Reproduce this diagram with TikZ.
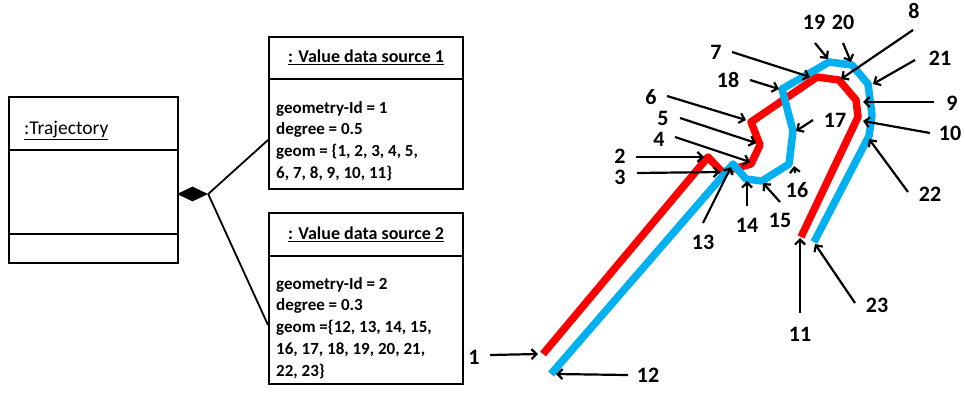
\documentclass[tikz,border=0pt]{standalone}
\usepackage{fontspec}
\setmainfont{Carlito}
\usetikzlibrary{arrows.meta,shapes.geometric}
\definecolor{lred}{RGB}{255,0,0}
\definecolor{lblue}{RGB}{0,176,240}
\begin{document}
\begin{tikzpicture}[x=1pt,y=-1pt,
  box/.style={draw, line width=1.6pt, inner sep=0pt, anchor=north west},
  divline/.style={line width=1.6pt},
  assoc/.style={line width=1.8pt},
  numlbl/.style={font=\fontsize{22}{24}\selectfont\bfseries, inner sep=0pt},
  ptr/.style={line width=2.2pt, -{Straight Barb[length=5pt,width=10pt]}},
  redpath/.style={draw=lred, line width=7.5pt, line join=round},
  bluepath/.style={draw=lblue, line width=7.5pt, line join=round},
  bodytxt/.style={font=\fontsize{17}{20}\selectfont\bfseries, anchor=base west, inner sep=0pt},
  titletxt/.style={font=\fontsize{18}{20}\selectfont\bfseries, inner sep=0pt},
]
\useasboundingbox (0,0) rectangle (965,392);

% ---------- Trajectory object ----------
\node[box, minimum width=169pt, minimum height=166pt] (traj) at (8,96) {};
\draw[divline] (8,150) -- (177,150);
\draw[divline] (8,234) -- (177,234);
\node[font=\fontsize{19.5}{21}\selectfont, anchor=base west, inner sep=0pt] (trajt) at (24,134) {\underline{:Trajectory}};

% ---------- composition diamond ----------
\node[diamond, fill=black, minimum width=31pt, minimum height=15pt, inner sep=0pt] (dia) at (192.5,194) {};
\coordinate (c1) at (268,140);
\coordinate (c2) at (268,325);
\draw[assoc] (dia.east) -- (c1);
\draw[assoc] (dia.east) -- (c2);

% ---------- Value data source 1 ----------
\node[box, minimum width=194pt, minimum height=152pt] (vs1) at (268,36) {};
\draw[divline] (268,79) -- (462,79);
\node[titletxt] (vs1t) at (366,57) {\underline{: Value data source 1}};
\node[bodytxt] (vs1a) at (276,113) {geometry-Id = 1};
\node[bodytxt] (vs1b) at (276,134) {degree = 0.5};
\node[bodytxt] (vs1c) at (276,156) {geom = \{1, 2, 3, 4, 5,};
\node[bodytxt] (vs1d) at (276,178) {6, 7, 8, 9, 10, 11\}};

% ---------- Value data source 2 ----------
\node[box, minimum width=194pt, minimum height=171pt] (vs2) at (268,212) {};
\draw[divline] (268,256) -- (462,256);
\node[titletxt] (vs2t) at (366,234) {\underline{: Value data source 2}};
\node[bodytxt] (vs2a) at (276,289) {geometry-Id = 2};
\node[bodytxt] (vs2b) at (276,310) {degree = 0.3};
\node[bodytxt] (vs2c) at (276,332) {geom =\{12, 13, 14, 15,};
\node[bodytxt] (vs2d) at (276,354) {16, 17, 18, 19, 20, 21,};
\node[bodytxt] (vs2e) at (276,376) {22, 23\}};

% ---------- curve vertices ----------
\coordinate (p1) at (543,354);
\coordinate (p2) at (708,157);
\coordinate (p3) at (722,172);
\coordinate (p4) at (751,164);
\coordinate (p5) at (760,145);
\coordinate (p6) at (751,122);
\coordinate (p7) at (817,77);
\coordinate (p8) at (839,80);
\coordinate (p9) at (856,100);
\coordinate (p10) at (858,117);
\coordinate (p11) at (801,237);

\coordinate (p12) at (551,374);
\coordinate (p13) at (733,164);
\coordinate (p14) at (746,179);
\coordinate (p15) at (762,181);
\coordinate (p16) at (789,164);
\coordinate (p17) at (793,131);
\coordinate (p18) at (782,89);
\coordinate (p19) at (829,62);
\coordinate (p20) at (852,65);
\coordinate (p21) at (868,84);
\coordinate (pb) at (872,115);
\coordinate (p22) at (869,136);
\coordinate (p23) at (814,242);

\draw[redpath] (p1) -- (p2) -- (p3) -- (p4) -- (p5) -- (p6) -- (p7) -- (p8) -- (p9) -- (p10) -- (p11);
\draw[bluepath] (p12) -- (p13) -- (p14) -- (p15) -- (p16) -- (p17) -- (p18) -- (p19) -- (p20) -- (p21) -- (pb) -- (p22) -- (p23);

% ---------- labels ----------
\node[numlbl] (l1) at (474,357) {1};
\node[numlbl] (l12) at (648,375) {12};
\node[numlbl] (l2) at (620,156) {2};
\node[numlbl] (l3) at (620,177) {3};
\node[numlbl] (l4) at (659,139) {4};
\node[numlbl] (l5) at (663,118) {5};
\node[numlbl] (l6) at (651,97) {6};
\node[numlbl] (l7) at (716,52) {7};
\node[numlbl] (l18) at (728,80) {18};
\node[numlbl] (l19) at (814,22) {19};
\node[numlbl] (l20) at (843,22) {20};
\node[numlbl] (l8) at (914,11) {8};
\node[numlbl] (l21) at (940,58) {21};
\node[numlbl] (l9) at (952,103) {9};
\node[numlbl] (l10) at (950,133) {10};
\node[numlbl] (l22) at (930,194) {22};
\node[numlbl] (l17) at (835,120) {17};
\node[numlbl] (l11) at (800,334) {11};
\node[numlbl] (l23) at (877,305) {23};
\node[numlbl] (l13) at (703,242) {13};
\node[numlbl] (l14) at (747,225) {14};
\node[numlbl] (l15) at (780,220) {15};
\node[numlbl] (l16) at (797,190) {16};

% ---------- pointer arrows ----------
\coordinate (s1) at (490,355);  \coordinate (t1) at (538,354);
\coordinate (s12) at (628,375); \coordinate (t12) at (556,374);
\coordinate (s2) at (636,157);  \coordinate (t2) at (704,157);
\coordinate (s3) at (637,173);  \coordinate (t3) at (720,172);
\coordinate (s4) at (675,137);  \coordinate (t4) at (750,162);
\coordinate (s5) at (680,118);  \coordinate (t5) at (756,143);
\coordinate (s6) at (667,96);   \coordinate (t6) at (746,120);
\coordinate (s7) at (732,52);   \coordinate (t7) at (810,77);
\coordinate (s18) at (750,80);  \coordinate (t18) at (779,89);
\coordinate (s19) at (815,43);  \coordinate (t19) at (828,59);
\coordinate (s20) at (843,43);  \coordinate (t20) at (851,62);
\coordinate (s8) at (913,30);   \coordinate (t8) at (841,79);
\coordinate (s21) at (915,60);  \coordinate (t21) at (873,84);
\coordinate (s9) at (934,102);  \coordinate (t9) at (863,102);
\coordinate (s10) at (930,133); \coordinate (t10) at (863,121);
\coordinate (s22) at (908,192); \coordinate (t22) at (869,139);
\coordinate (s17) at (813,120); \coordinate (t17) at (796,131);
\coordinate (s11) at (800,313); \coordinate (t11) at (800,238);
\coordinate (s23) at (855,303); \coordinate (t23) at (815,244);
\coordinate (s13) at (703,223); \coordinate (t13) at (731,167);
\coordinate (s14) at (747,206); \coordinate (t14) at (747,181);
\coordinate (s15) at (780,202); \coordinate (t15) at (763,183);
\coordinate (s16) at (795,173); \coordinate (t16) at (794,166);

\foreach \k in {1,12,2,3,4,5,6,7,18,19,20,8,21,9,10,22,17,11,23,13,14,15,16}
  \draw[ptr] (s\k) -- (t\k);
\end{tikzpicture}
\end{document}
